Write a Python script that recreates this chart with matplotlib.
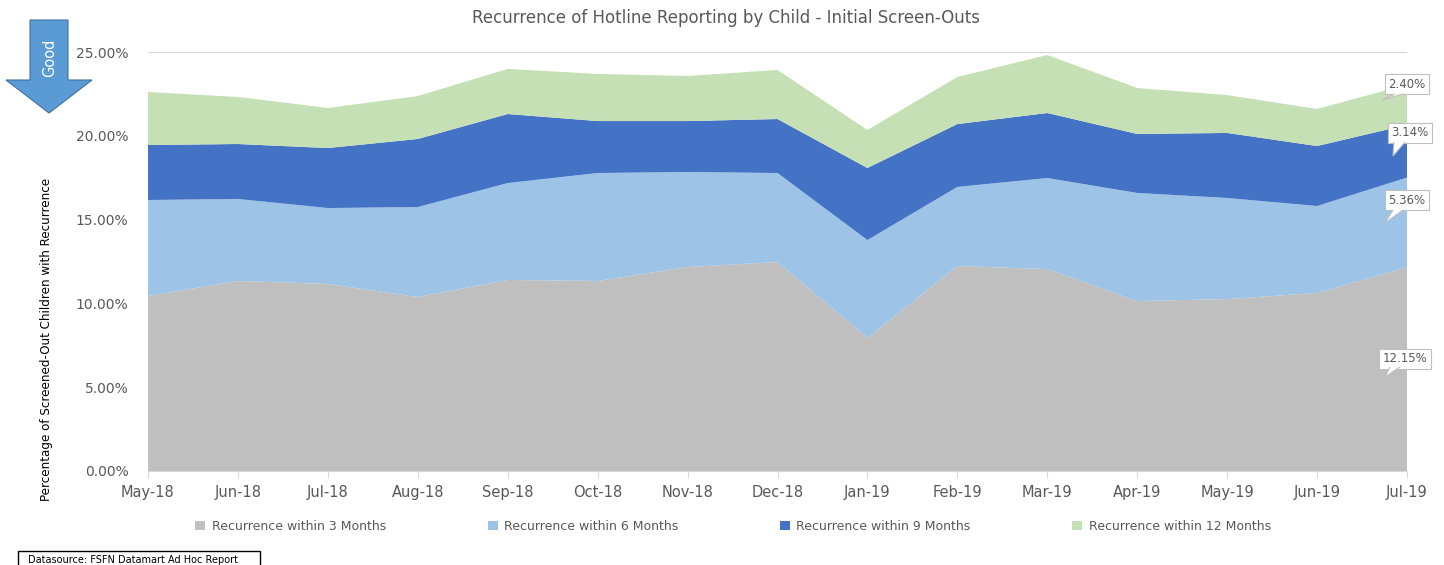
import numpy as np
import matplotlib
matplotlib.use("Agg")
import matplotlib.pyplot as plt
from matplotlib.patches import Polygon, Rectangle

months = ["May-18", "Jun-18", "Jul-18", "Aug-18", "Sep-18", "Oct-18", "Nov-18", "Dec-18",
          "Jan-19", "Feb-19", "Mar-19", "Apr-19", "May-19", "Jun-19", "Jul-19"]

# recurrence rates per band (percent)
within_3 = [10.44, 11.34, 11.16, 10.38, 11.40, 11.34, 12.17, 12.47,
            7.94, 12.23, 12.05, 10.14, 10.26, 10.62, 12.15]
within_6 = [5.73, 4.89, 4.53, 5.37, 5.78, 6.44, 5.67, 5.31,
            5.84, 4.72, 5.43, 6.45, 6.03, 5.19, 5.36]
within_9 = [3.28, 3.28, 3.58, 4.06, 4.12, 3.10, 3.04, 3.22,
            4.30, 3.75, 3.88, 3.52, 3.88, 3.58, 3.14]
within_12 = [3.16, 2.81, 2.39, 2.56, 2.69, 2.81, 2.69, 2.93,
             2.27, 2.81, 3.46, 2.74, 2.26, 2.21, 2.40]

series_names = ["Recurrence within 3 Months", "Recurrence within 6 Months",
                "Recurrence within 9 Months", "Recurrence within 12 Months"]
colors = ["#bfbfbf", "#9dc3e6", "#4472c4", "#c5e0b4"]
yticks = [0, 5, 10, 15, 20, 25]

W, H = 1444, 565
def fp(px, py):
    # pixel position -> figure fraction
    return (px / W, 1 - py / H)

fig = plt.figure(figsize=(W / 100, H / 100), dpi=100)
ax = fig.add_axes([148 / W, 1 - 471 / H, (1407 - 148) / W, (471 - 52) / H])

x = np.arange(len(months))
ax.stackplot(x, within_3, within_6, within_9, within_12, colors=colors,
             labels=series_names, zorder=2)

ax.set_xlim(0, len(months) - 1)
ax.set_ylim(0, 25)
ax.set_yticks(yticks)
ax.set_yticklabels(["%.2f%%" % v for v in yticks])
ax.set_xticks(x)
ax.set_xticklabels(months)
ax.grid(axis="y", color="#d9d9d9", lw=1, zorder=0)
for s in ["top", "right", "left"]:
    ax.spines[s].set_visible(False)
ax.spines["bottom"].set_color("#d9d9d9")
ax.tick_params(axis="y", length=0, labelsize=10, labelcolor="#595959", pad=14)
ax.tick_params(axis="x", length=5, color="#d9d9d9", labelsize=10.5,
               labelcolor="#595959", pad=5)

fig.text(*fp(726, 18), "Recurrence of Hotline Reporting by Child - Initial Screen-Outs",
         ha="center", va="center", fontsize=12, color="#595959")
fig.text(*fp(47, 339), "Percentage of Screened-Out Children with Recurrence",
         rotation=90, ha="center", va="center", fontsize=9.5,
         family="DejaVu Sans", fontstretch="condensed", color="black")

# data labels on the last point (callout boxes with tails)
last = len(months) - 1
vals = [within_3[last], within_6[last], within_9[last], within_12[last]]
label_pos = [(1405, 359), (1407, 200), (1410, 133), (1407, 84)]
tails = [[(1390, 367), (1385, 377), (1400, 367)],
         [(1393, 210), (1385, 223), (1403, 210)],
         [(1394, 142), (1393, 156), (1405, 142)],
         [(1395, 94), (1382, 100), (1403, 94)]]
for v, pos, tail in zip(vals, label_pos, tails):
    fig.text(*fp(*pos), "%.2f%%" % v, ha="center", va="center", fontsize=8.5,
             color="#595959",
             bbox=dict(boxstyle="square,pad=0.3", fc="white", ec="#bfbfbf", lw=0.8))
    fig.patches.append(Polygon([fp(*p) for p in tail], closed=False,
                               transform=fig.transFigure, fc="white",
                               ec="#bfbfbf", lw=0.8, zorder=10))

fig.legend(loc="lower left", bbox_to_anchor=(184 / W, 1 - 544 / H, (1282 - 184) / W, 0.02),
           ncol=4, mode="expand", frameon=False, fontsize=9, handlelength=0.8,
           handleheight=0.8, handletextpad=0.5, labelcolor="#595959")

# "Good" arrow
pts = [(30, 20), (68, 20), (68, 80), (92, 80), (49, 113), (6, 80), (30, 80)]
arrow = Polygon([fp(px, py) for px, py in pts], closed=True,
                transform=fig.transFigure, fc="#5b9bd5", ec="#41719c", lw=0.8)
fig.patches.append(arrow)
fig.text(*fp(50, 58), "Good", rotation=90, ha="center", va="center",
         color="white", fontsize=10.5)

# datasource box
box = Rectangle((18 / W, -0.05), (260 - 18) / W, 0.05 + (565 - 551) / H,
                transform=fig.transFigure, fc="white", ec="black", lw=1)
fig.patches.append(box)
fig.text(*fp(28, 560), "Datasource: FSFN Datamart Ad Hoc Report",
         ha="left", va="center", fontsize=7, color="black")

fig.savefig("out.png", dpi=100)
